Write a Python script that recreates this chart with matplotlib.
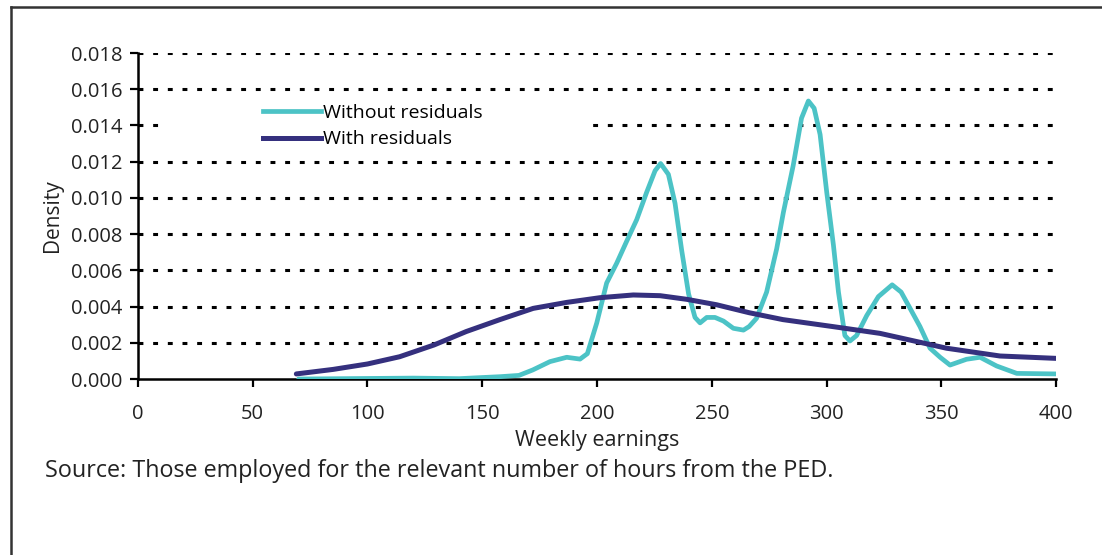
import matplotlib
matplotlib.use("Agg")
import matplotlib.pyplot as plt
from matplotlib.lines import Line2D
from matplotlib.patches import Rectangle

plt.rcParams["font.family"] = ["Open Sans", "DejaVu Sans"]

# Without residuals (kernel density)
x_without = [70, 100, 120, 140, 158, 166, 172, 179.5, 186.8, 192.6, 195.8,
             199.9, 204.2, 208.6, 212.9, 217.3, 221.6, 225.3, 227.7, 231.1,
             234, 236.9, 239.9, 242.7, 244.9, 247.8, 251.4, 255.1, 259.4,
             263.8, 266.3, 269.5, 273.9, 278.3, 281.2, 285.5, 289.1, 292.1,
             294.6, 297.2, 300.1, 303, 305.2, 308, 310.2, 313.1, 317.5, 322.6,
             328.6, 332.5, 336.4, 340.7, 345.1, 349.5, 353.8, 361, 366.9,
             374.1, 382.9, 400]
y_without = [0.0000, 0.00003, 0.00005, 0.00002, 0.00013, 0.0002, 0.0005,
             0.00096, 0.0012, 0.0011, 0.0014,
             0.0031, 0.0053, 0.0064, 0.0076, 0.0088, 0.0103, 0.0115, 0.0119,
             0.0113, 0.0097, 0.0071, 0.0047, 0.0034, 0.0031, 0.0034, 0.0034,
             0.0032, 0.0028, 0.0027, 0.0029, 0.00335, 0.0048, 0.0072, 0.0092,
             0.0118, 0.0144, 0.01535, 0.01495, 0.0135, 0.0103, 0.0074, 0.0048,
             0.0024, 0.0021, 0.0024, 0.0035, 0.00455, 0.0052, 0.0048, 0.0039,
             0.0029, 0.0017, 0.0012, 0.00077, 0.00109, 0.0012, 0.00072,
             0.00031, 0.00028]

# With residuals
x_with = [69, 85, 100, 114, 129, 143, 157.7, 172.2, 186.8, 201.3, 215.8,
          227.5, 239.1, 252.1, 266.3, 281, 303, 323.3, 352.3, 375.6, 400]
y_with = [0.00028, 0.00053, 0.00083, 0.00123, 0.00188, 0.00262, 0.00328,
          0.0039, 0.00423, 0.00449, 0.00464, 0.0046, 0.0044, 0.0041,
          0.00366, 0.00328, 0.00289, 0.00252, 0.0017, 0.00127, 0.00114]

x_ticks = [0, 50, 100, 150, 200, 250, 300, 350, 400]
y_ticks = [0.000, 0.002, 0.004, 0.006, 0.008, 0.010, 0.012, 0.014, 0.016, 0.018]

cyan = "#4cc3c6"
navy = "#35307e"

fig = plt.figure(figsize=(11.02, 5.55), dpi=100)
ax = fig.add_axes([0.1252, 0.3171, 0.8331, 0.5874])

for v in y_ticks[1:]:
    ax.axhline(v, color="black", lw=2.2, linestyle=(0, (1.6, 3.2)), zorder=1)

# white box behind legend hides part of the gridline
ax.add_patch(Rectangle((0.0305, 0.69), 0.457, 0.175, transform=ax.transAxes,
                       facecolor="white", edgecolor="none", zorder=2))

ax.plot(x_without, y_without, color=cyan, lw=3.4, zorder=3,
        solid_joinstyle="round", solid_capstyle="round")
ax.plot(x_with, y_with, color=navy, lw=3.6, zorder=4,
        solid_joinstyle="round", solid_capstyle="round")

ax.set_xlim(0, 400)
ax.set_ylim(0, 0.018)
ax.set_xticks(x_ticks)
ax.set_xticklabels([str(t) for t in x_ticks])
ax.set_yticks(y_ticks)
ax.set_yticklabels([f"{t:.3f}" for t in y_ticks])
ax.tick_params(axis="both", labelsize=14.5, length=6, width=1.6,
               direction="out", color="black", labelcolor="#222222")
ax.tick_params(axis="x", pad=12)
ax.tick_params(axis="y", pad=5)
for s in ["top", "right"]:
    ax.spines[s].set_visible(False)
for s in ["left", "bottom"]:
    ax.spines[s].set_linewidth(1.8)
ax.set_xlabel("Weekly earnings", fontsize=15.5, labelpad=4, color="#222222")
ax.set_ylabel("Density", fontsize=15, labelpad=6, color="#222222")

handles = [Line2D([], [], color=cyan, lw=3.4),
           Line2D([], [], color=navy, lw=3.6)]
ax.legend(handles, ["Without residuals", "With residuals"], loc="center left",
          bbox_to_anchor=(0.136, 0.776), frameon=False, fontsize=14,
          handlelength=3.0, handletextpad=0.1, borderpad=0, borderaxespad=0,
          labelspacing=0.45)

fig.text(0.041, 0.152, "Source: Those employed for the relevant number of hours from the PED.",
         fontsize=16.8, color="#222222", va="center", ha="left")

# outer frame: only top and left edges show
fig.add_artist(Line2D([0.010, 1.0], [0.987, 0.987], transform=fig.transFigure,
                      color="#333333", lw=1.8))
fig.add_artist(Line2D([0.010, 0.010], [0.0, 0.987], transform=fig.transFigure,
                      color="#333333", lw=1.8))

fig.savefig("out.png", dpi=100)
